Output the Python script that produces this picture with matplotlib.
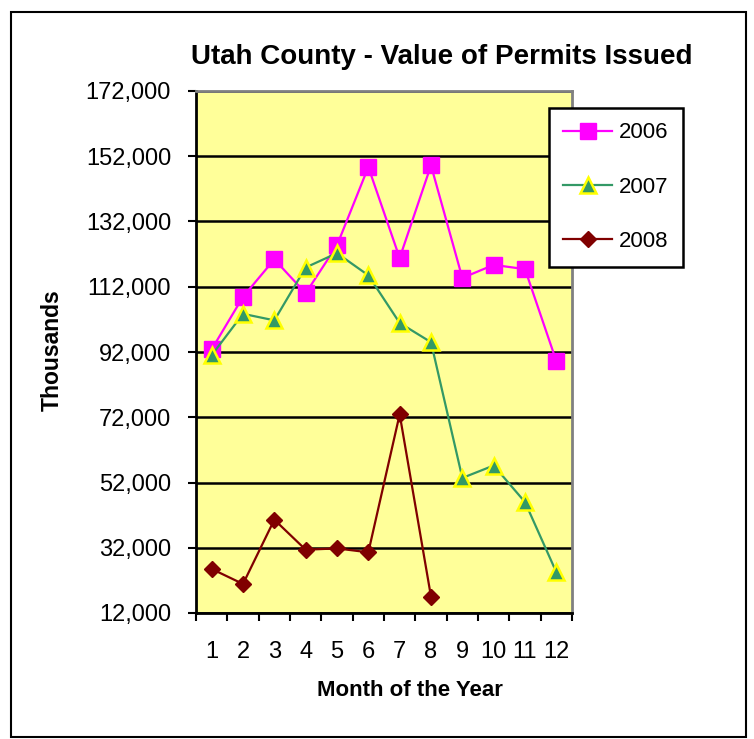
import matplotlib
matplotlib.use('Agg')
import matplotlib.pyplot as plt
from matplotlib.patches import Rectangle
from matplotlib.ticker import FuncFormatter, FixedLocator

plt.rcParams['font.family'] = ['Liberation Sans', 'DejaVu Sans']

months = [1, 2, 3, 4, 5, 6, 7, 8, 9, 10, 11, 12]
v2006 = [92800, 108900, 120400, 110000, 124700, 148700,
         120800, 149200, 114700, 118700, 117400, 89200]
v2007 = [91000, 103700, 101700, 117900, 122300, 115500,
         100900, 95000, 53400, 57200, 46000, 24500]
v2008 = [25500, 20900, 40600, 31400, 31800, 30600, 72900, 17000]
y_ticks = [12000, 32000, 52000, 72000, 92000, 112000, 132000, 152000, 172000]

W, H = 754, 739
fig = plt.figure(figsize=(W / 100, H / 100), dpi=100)
fig.patch.set_facecolor('white')

# chart border
fig.patches.append(Rectangle((11 / W, 1 - 737 / H), 735 / W, 725 / H,
                             transform=fig.transFigure, fill=False,
                             edgecolor='black', linewidth=1.5))

ax = fig.add_axes([196 / W, 1 - 613 / H, 376 / W, 522 / H])
ax.set_facecolor('#FFFF99')

ax.plot(months, v2006, color='#FF00FF', lw=1.6, marker='s', ms=11,
        mfc='#FF00FF', mec='#FF00FF', label='2006', zorder=3)
ax.plot(months, v2007, color='#339966', lw=1.6, marker='^', ms=11,
        mfc='#339966', mec='#FFFF00', mew=1.8, label='2007', zorder=4)
ax.plot(months[:len(v2008)], v2008, color='#800000', lw=1.6, marker='D',
        ms=8, mfc='#800000', mec='#800000', label='2008', zorder=5)

ax.set_xlim(0.5, 12.5)
ax.set_ylim(12000, 172000)
ax.set_yticks(y_ticks)
ax.yaxis.set_major_formatter(FuncFormatter(lambda v, p: f'{int(v):,}'))
ax.set_xticks(months)
ax.xaxis.set_minor_locator(FixedLocator([m - 0.5 for m in months] + [12.5]))
ax.tick_params(axis='x', which='major', length=0, pad=20, labelsize=17)
ax.tick_params(axis='x', which='minor', length=6, width=1.5, direction='out')
ax.tick_params(axis='y', length=6, width=1.5, direction='out', pad=12,
               labelsize=17)

ax.set_axisbelow(True)
ax.yaxis.grid(True, color='black', linewidth=1.8)
for side in ['left', 'bottom']:
    ax.spines[side].set_linewidth(2)
    ax.spines[side].set_color('black')
for side in ['top', 'right']:
    ax.spines[side].set_linewidth(2)
    ax.spines[side].set_color('#808080')

leg = ax.legend(loc='upper left', bbox_to_anchor=(549 / W, 1 - 108 / H),
                bbox_transform=fig.transFigure, fontsize=16, frameon=True,
                fancybox=False, edgecolor='black', framealpha=1,
                borderpad=0.65, labelspacing=1.5, handlelength=2.2,
                handletextpad=0.3, borderaxespad=0)
leg.get_frame().set_linewidth(1.8)

fig.text(442 / W, 1 - 57 / H, 'Utah County - Value of Permits Issued',
         ha='center', va='center', fontsize=20, fontweight='bold')
fig.text(410 / W, 1 - 690 / H, 'Month of the Year', ha='center',
         va='center', fontsize=16, fontweight='bold')
fig.text(52 / W, 1 - 350 / H, 'Thousands', ha='center', va='center',
         rotation=90, fontsize=16.5, fontweight='bold')

fig.savefig('out.png', dpi=100)
